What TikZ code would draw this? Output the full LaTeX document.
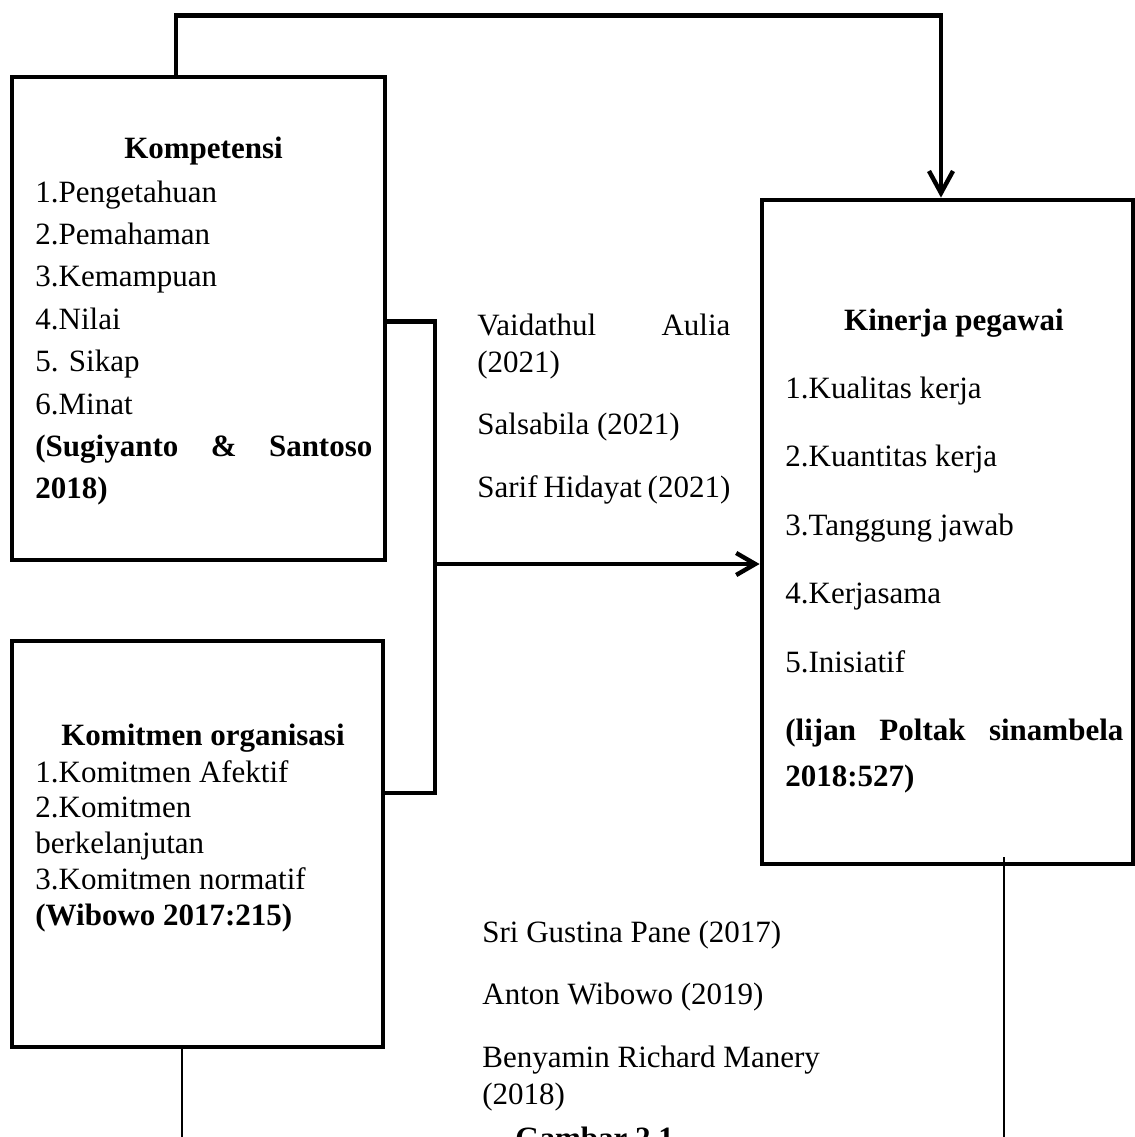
\documentclass[tikz,border=0pt]{standalone}
\usepackage{fontspec}
\setmainfont{Liberation Serif}
\usetikzlibrary{arrows.meta}

\begin{document}
\hyphenpenalty=10000\relax
\tolerance=10000\relax
\begin{tikzpicture}[x=0.5pt, y=-0.5pt,
    box/.style={draw, line width=2.4pt, inner sep=0pt},
    link/.style={line width=2.2pt},
    thinlink/.style={line width=1pt},
    tipdown/.style={-{Straight Barb[length=11pt, width=12pt, line width=2.2pt]}},
    tipright/.style={-{Straight Barb[length=9.5pt, width=11pt, line width=2.2pt]}},
    title/.style={anchor=base, inner sep=0pt, font=\fontsize{15.5pt}{18pt}\selectfont\bfseries},
    txt/.style={anchor=base west, inner sep=0pt, align=justify,
        font=\fontsize{15.5pt}{#1}\selectfont}
]
            \useasboundingbox (0,0) rectangle (1135,1137);
            \clip (0,0) rectangle (1135,1137);

            \node[box, minimum width=186.5pt, minimum height=241.5pt] (kompetensi) at (198.5,318.5) {};
            \node[box, minimum width=185.5pt, minimum height=203pt] (komitmen) at (197.5,844) {};
            \node[box, minimum width=185.5pt, minimum height=332pt] (kinerja) at (947.5,532) {};

            \node[title] (kompTitle) at (203.5,158) {Kompetensi};
            \node[txt=21.2pt, text width=168.5pt] (kompList) at (35,202) {1.Pengetahuan\\2.Pemahaman\\3.Kemampuan\\4.Nilai\\5. Sikap\\6.Minat\\\textbf{(Sugiyanto \& Santoso 2018)}};

            \node[title] (komitTitle) at (203,745) {Komitmen organisasi};
            \node[txt=17.9pt, text width=168pt] (komitList) at (35,782) {1.Komitmen Afektif\\2.Komitmen\\berkelanjutan\\3.Komitmen normatif\\\textbf{(Wibowo 2017:215)}};

            \node[title] (kinTitle) at (954,330) {Kinerja pegawai};
            \node[txt=23pt, text width=169pt] (kinList) at (785,398) {1.Kualitas kerja\\[11.25pt]2.Kuantitas kerja\\[11.25pt]3.Tanggung jawab\\[11.25pt]4.Kerjasama\\[11.25pt]5.Inisiatif\\[11.25pt]\textbf{(lijan Poltak sinambela 2018:527)}};

            \node[txt=18.5pt, text width=126.5pt] (refsTop) at (477,335) {Vaidathul Aulia (2021)\\[12.75pt]Salsabila (2021)\\[12.75pt]Sarif Hidayat (2021)};
            \node[txt=18.5pt, text width=200pt] (refsBottom) at (482,942) {Sri Gustina Pane (2017)\\[12.75pt]Anton Wibowo (2019)\\[12.75pt]Benyamin Richard Manery\\{}(2018)};
            \node[title, anchor=base west] (caption) at (515,1148) {Gambar 2.1};

            \draw[link, tipdown] ([xshift=-11.25pt]kompetensi.north) -- ++(0,-59) -| ([xshift=-3.25pt]kinerja.north);

            \coordinate (junction) at (435,564);
            \draw[link] ([yshift=-1.5pt]kompetensi.east) -| (junction) |- ([yshift=25.5pt]komitmen.east);
            \draw[link, tipright] (junction) -- (kinerja.west |- junction);

            \draw[thinlink] ([xshift=-7.75pt]komitmen.south) -- ++(0,120);
            \draw[thinlink] ([xshift=28.25pt, yshift=4.5pt]kinerja.south) -- ++(0,300);
        \end{tikzpicture}
\end{document}
